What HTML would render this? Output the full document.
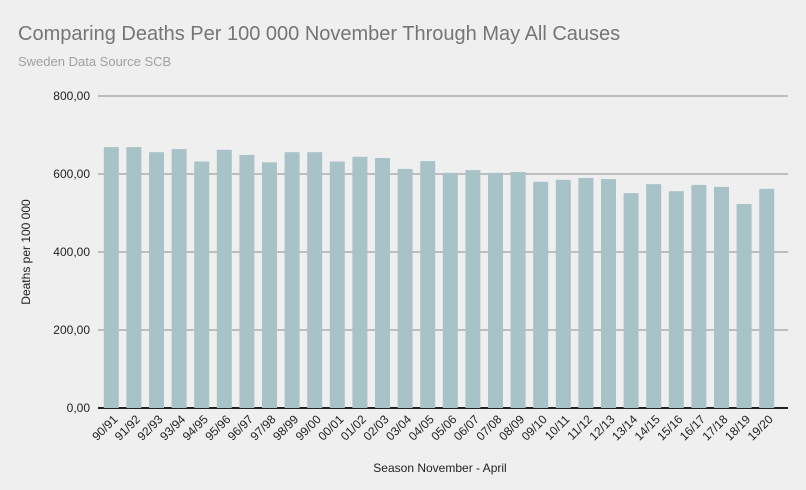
<!DOCTYPE html>
<html><head><meta charset="utf-8"><style>
body{margin:0;background:#efefef;font-family:"Liberation Sans",sans-serif;}
svg{display:block}
</style></head><body>
<svg id="chart" width="806" height="490">
<rect width="806" height="490" fill="#efefef"/>
<text x="18" y="40" font-size="20" fill="#757575">Comparing Deaths Per 100 000 November Through May All Causes</text>
<text x="18" y="66" font-size="13" fill="#a0a0a0">Sweden Data Source SCB</text>
<text transform="translate(30,252) rotate(-90)" text-anchor="middle" font-size="12" fill="#222">Deaths per 100 000</text>
<text x="440" y="472" text-anchor="middle" font-size="12" fill="#222">Season November - April</text>
<g id="grid"></g><g id="bars"></g><g id="xlabels"></g>
</svg>
<script>
const categories=["90/91","91/92","92/93","93/94","94/95","95/96","96/97","97/98","98/99","99/00","00/01","01/02","02/03","03/04","04/05","05/06","06/07","07/08","08/09","09/10","10/11","11/12","12/13","13/14","14/15","15/16","16/17","17/18","18/19","19/20"];
const values=[669,669,656,664,632,662,649,630,656,656,632,644,641,613,633,603,610,603,605,580,585,590,587,551,574,556,572,567,523,562];
const yTicks=[0,200,400,600,800];
const yTickLabels=["0,00","200,00","400,00","600,00","800,00"];
const NS="http://www.w3.org/2000/svg";
const x0=100,band=22.6,bw=15,yBase=408,yMax=800,plotH=312;
const y=v=>yBase-v/yMax*plotH;
const xc=i=>x0+band*i+band/2;
function mk(t,a,p){const e=document.createElementNS(NS,t);for(const k in a)e.setAttribute(k,a[k]);p.appendChild(e);return e;}
const grid=document.getElementById('grid'),bars=document.getElementById('bars'),xl=document.getElementById('xlabels');
yTicks.forEach((t,i)=>{
 const l=mk('line',{x1:98,x2:788,y1:y(t),y2:y(t),stroke:t===0?'#222':'#bdbdbd','stroke-width':2},grid);
 
 
 const tx=mk('text',{x:90,y:y(t)+4,'text-anchor':'end','font-size':12,fill:'#222'},grid);
 tx.textContent=yTickLabels[i];
 
 
});
categories.forEach((c,i)=>{
 const r=mk('rect',{x:xc(i)-bw/2,y:y(values[i]),width:bw,height:yBase-y(values[i]),fill:'#a8c3c7'},bars);
 
 
 const t=mk('text',{transform:`translate(${xc(i)+7},${yBase+12}) rotate(-45)`,'text-anchor':'end','font-size':12,fill:'#222'},xl);
 t.textContent=c;
 
 
});
</script>
</body></html>
